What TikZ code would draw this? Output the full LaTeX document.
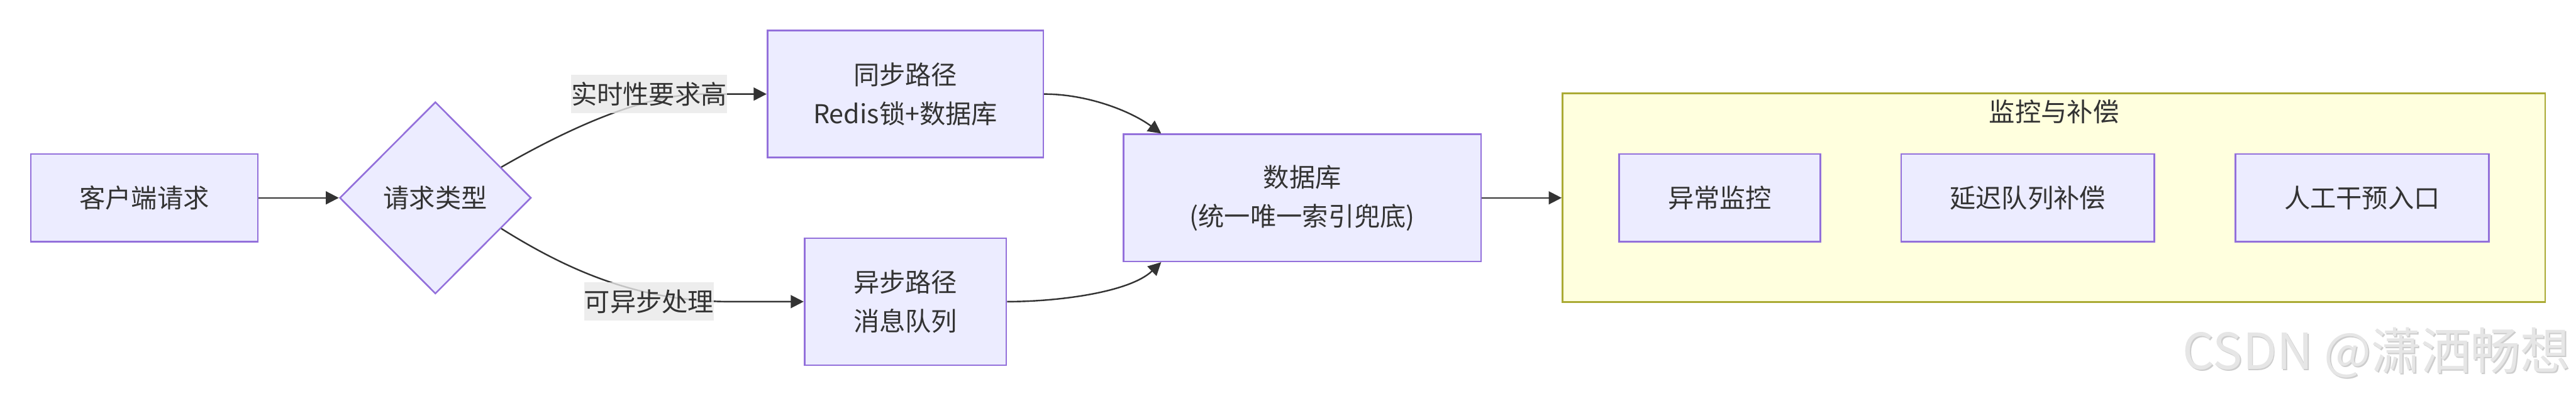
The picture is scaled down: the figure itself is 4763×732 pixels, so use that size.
\documentclass[tikz,border=0pt]{standalone}
\usepackage{fontspec}
\setmainfont{Noto Sans CJK SC}
\usetikzlibrary{shapes.geometric,arrows.meta,calc}
\definecolor{nodefill}{HTML}{ECECFF}
\definecolor{nodeline}{HTML}{9370DB}
\definecolor{clusterfill}{HTML}{FFFFDE}
\definecolor{clusterline}{HTML}{AAAA33}
\definecolor{edgecol}{HTML}{333333}
\definecolor{txt}{HTML}{333333}
\definecolor{lblbg}{HTML}{E8E8E8}
\definecolor{wm}{HTML}{E6E6E6}
\definecolor{wmshadow}{HTML}{CDCDCD}
\begin{document}
\begin{tikzpicture}[x=0.25pt,y=-0.25pt,
  font=\fontsize{12}{18}\selectfont, text=txt,
  box/.style={draw=nodeline, fill=nodefill, line width=0.75pt, inner sep=0pt,
    minimum height=40.5pt, align=center},
  tallbox/.style={box, minimum height=58.75pt},
  decision/.style={diamond, draw=nodeline, fill=nodefill, line width=0.75pt,
    inner sep=0pt, minimum width=88.5pt, minimum height=88.75pt},
  cluster/.style={draw=clusterline, fill=clusterfill, line width=0.75pt, inner sep=0pt},
  conn/.style={draw=edgecol, line width=0.7pt, -{Triangle[length=6pt,width=6pt]}},
  lbl/.style={fill=lblbg, fill opacity=0.8, text opacity=1, inner sep=0pt,
    minimum height=17.75pt},
  wmark/.style={font=\fontsize{23}{23}\selectfont, inner sep=0pt, anchor=east}
]
\useasboundingbox (0,0) rectangle (4763,732);

% nodes
\node[box, minimum width=105pt] (client) at (267,366) {客户端请求};
\node[decision] (type) at (805,366) {请求类型};
\node[tallbox, minimum width=127.5pt] (sync) at (1674,174) {同步路径\\Redis锁+数据库};
\node[tallbox, minimum width=93.25pt] (async) at (1674,558) {异步路径\\消息队列};
\node[tallbox, minimum width=165.25pt] (db) at (2408,366) {数据库\\(统一唯一索引兜底)};

\node[cluster, minimum width=454.25pt, minimum height=96.5pt] (mon) at (3797.5,366) {};
\node[inner sep=0pt] (montitle) at (3798,207) {监控与补偿};
\node[box, minimum width=93pt] (alarm) at (3180,366) {异常监控};
\node[box, minimum width=117pt] (delay) at (3749,366) {延迟队列补偿};
\node[box, minimum width=117.25pt] (manual) at (4367.5,366) {人工干预入口};

% connectors
\draw[conn] (client) -- (type);
\draw[conn] (type.25) .. controls (1030,250) and (1180,174) .. (1300,174) -- (sync.west);
\draw[conn] (type.-25) .. controls (1050,500) and (1180,558) .. (1350,558) -- (async.west);
\draw[conn] (sync.east) .. controls (2010,174) and (2090,205) .. ($(db.north west)+(71,0)$);
\draw[conn] (async.east) .. controls (1960,558) and (2090,540) .. ($(db.south west)+(71,0)$);
\draw[conn] (db.east) -- (mon.west);

% edge labels
\node[lbl, minimum width=72pt] (l1) at (1200,174) {实时性要求高};
\node[lbl, minimum width=60pt] (l2) at (1200,558) {可异步处理};

% watermark
\node[wmark, text=wmshadow] (wms) at (4755,655) {CSDN @潇洒畅想};
\node[wmark, text=wm] (wmt) at (4753,653) {CSDN @潇洒畅想};
\end{tikzpicture}
\end{document}
